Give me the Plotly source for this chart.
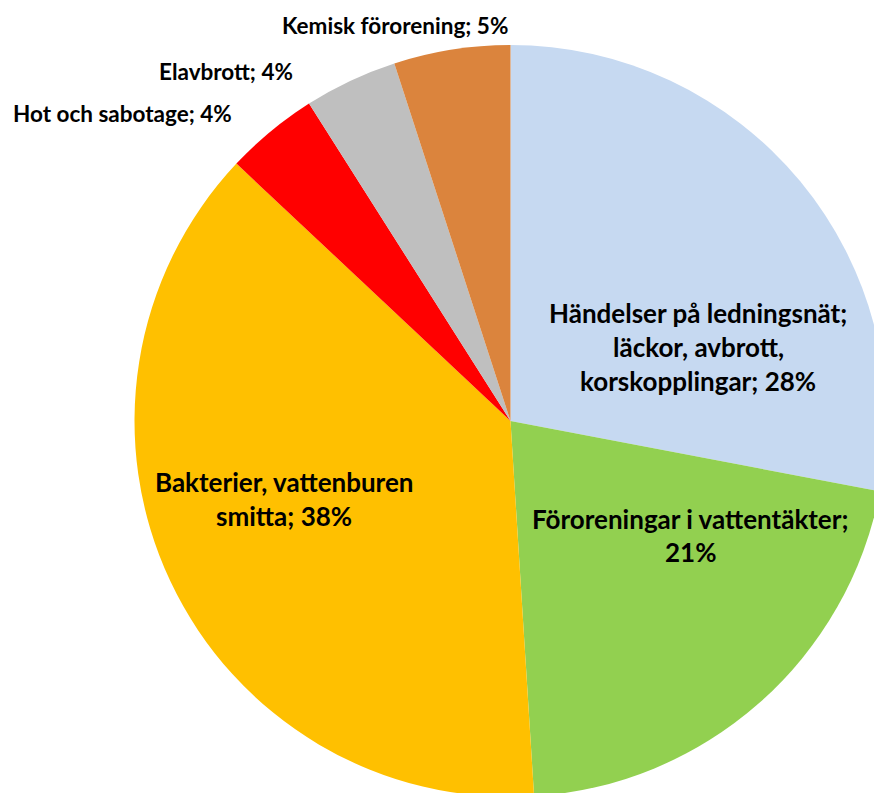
import plotly.graph_objects as go

# Data
categories = [
    "Händelser på ledningsnät;<br>läckor, avbrott,<br>korskopplingar",
    "Föroreningar i vattentäkter;",
    "Bakterier, vattenburen<br>smitta",
    "Hot och sabotage",
    "Elavbrott",
    "Kemisk förorening",
]
values = [28, 21, 38, 4, 4, 5]
colors = ["#C6D9F1", "#92D050", "#FFC000", "#FF0000", "#BFBFBF", "#DB843D"]

W, H = 900, 800
cx, cy, r = 510.5, 421, 376  # pixel centre & radius

fig = go.Figure(go.Pie(
    labels=[c.replace("<br>", " ") for c in categories],
    values=values,
    sort=False,
    direction="clockwise",
    rotation=0,
    marker=dict(colors=colors, line=dict(width=0)),
    textinfo="none",
    hoverinfo="label+percent",
    showlegend=False,
    domain=dict(x=[(cx - r) / W, (cx + r) / W], y=[1 - (cy + r) / H, 1 - (cy - r) / H]),
))

def label_lines(i):
    cat = categories[i]
    pct = f"{values[i]}%"
    if cat.endswith(";"):
        lines = cat.split("<br>") + [pct]
    else:
        lines = cat.split("<br>")
        lines[-1] = lines[-1] + "; " + pct
    return lines

# label layout: pixel centre of first line, line spacing, font size
label_pos = [
    (698, 313, 34, 26),
    (690, 519, 33, 26),
    (284, 482, 34, 26),
    (122, 114, 0, 22.5),
    (226, 72, 0, 22.5),
    (395, 25, 0, 22.5),
]

annotations = []
for i, (px, py, dy, fs) in enumerate(label_pos):
    for k, line in enumerate(label_lines(i)):
        annotations.append(dict(
            x=px / W, y=1 - (py + k * dy) / H, xref="paper", yref="paper",
            text=f"<b>{line}</b>", showarrow=False,
            xanchor="center", yanchor="middle",
            font=dict(family="Lato", size=fs, color="#000000"),
        ))

fig.update_layout(
    width=W, height=H,
    margin=dict(l=0, r=0, t=0, b=0),
    paper_bgcolor="white", plot_bgcolor="white",
    annotations=annotations,
)

fig.write_html(
    "out.html",
    config={"displayModeBar": False},
    post_script="document.body.style.margin='0';document.body.style.overflow='hidden';",
)
